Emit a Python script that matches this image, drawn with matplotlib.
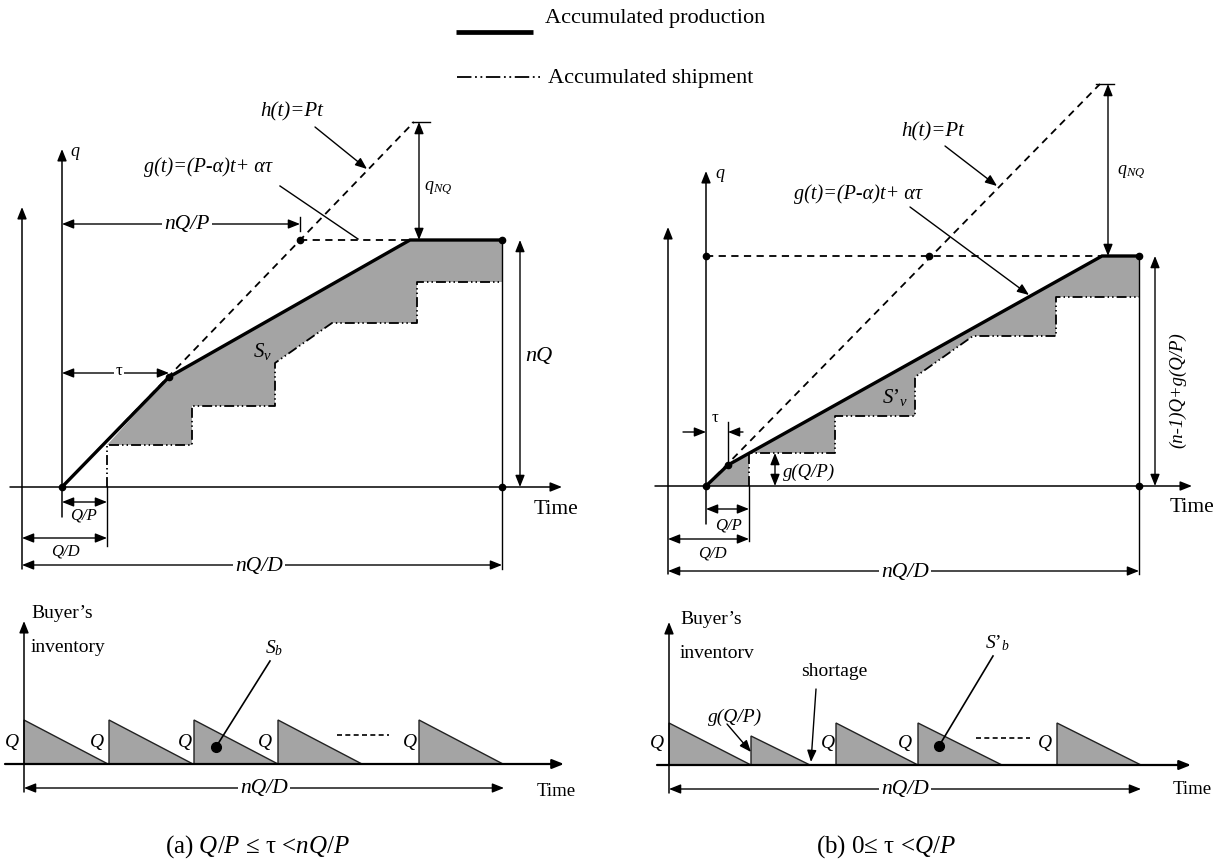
import numpy as np
import matplotlib.pyplot as plt
from matplotlib.patches import Polygon

plt.rcParams['font.family'] = ['Liberation Serif', 'DejaVu Serif']
plt.rcParams['mathtext.fontset'] = 'custom'
plt.rcParams['mathtext.rm'] = 'Liberation Serif'
plt.rcParams['mathtext.it'] = 'Liberation Serif:italic'

W, H = 1220, 862

# panel origins, image pixels (x from left, y from top)
origin_a = (62, 488)
origin_b = (706, 487)
origin_c = (24, 765)
origin_d = (669, 766)

# (a) vendor side, t to the right, q upwards (pixel units from the origin)
prod_a_t = [0, 107, 348, 440]
prod_a_q = [0, 110, 247, 247]
ship_a_t = [45, 45, 130, 130, 213, 213, 270, 355, 355, 440]
ship_a_q = [0, 42, 42, 81, 81, 124, 164, 164, 205, 205]
h_a_t = [0, 352]
h_a_q = [0, 365]
flat_a_t = [238, 348]

# (b) vendor side
prod_b_t = [0, 22, 396, 433]
prod_b_q = [0, 21, 230, 230]
ship_b_t = [43, 43, 129, 129, 209, 209, 267, 350, 350, 433]
ship_b_q = [0, 33, 33, 70, 70, 109, 150, 150, 189, 189]
h_b_t = [0, 394]
h_b_q = [0, 402]
flat_b_t = [0, 396]

# buyer's inventory saw-tooth
tri_a_start = [0, 85, 170, 254, 395]
tri_a_len = [84, 84, 84, 84, 84]
tri_a_height = [44, 44, 44, 44, 44]
tri_b_start = [0, 82, 167, 249, 388]
tri_b_len = [82, 59, 82, 84, 84]
tri_b_height = [42, 29, 42, 42, 42]

GRAY = '#a4a4a4'
SHIP = (0, (5.5, 1.7, 0.8, 1.7, 0.8, 1.7))
DASH = (0, (4, 3))

fig = plt.figure(figsize=(12.2, 8.62), dpi=100)


def panel(origin):
    ax = fig.add_axes([0, 0, 1, 1])
    ax.set_xlim(-origin[0], W - origin[0])
    ax.set_ylim(origin[1] - H, origin[1])
    ax.axis('off')
    return ax


def arrow(ax, a, b, both=False, lw=1.0):
    style = ('<|-|>' if both else '-|>') + ',head_length=0.5,head_width=0.2'
    ax.annotate('', xy=b, xytext=a,
                arrowprops=dict(arrowstyle=style, mutation_scale=14, lw=lw,
                                color='k', shrinkA=0, shrinkB=0))


def label(ax, x, y, s, size=14, style='italic', bg=False, **kw):
    kw.setdefault('ha', 'center')
    kw.setdefault('va', 'center')
    if bg:
        kw['bbox'] = dict(fc='white', ec='none', pad=1.5)
    ax.text(x, y, s, fontsize=size, style=style, zorder=6, **kw)


# ---------------- legend ----------------
lg = fig.add_axes([0, 0, 1, 1])
lg.set_xlim(0, W)
lg.set_ylim(H, 0)
lg.axis('off')
lg.plot([456, 533], [33, 33], color='k', lw=3.4, solid_capstyle='butt')
lg.plot([457, 540], [78, 78], color='k', lw=1.3, linestyle=(0, (8, 2, 1, 2, 1, 2)))
lg.text(545, 18, 'Accumulated production', fontsize=16, va='center')
lg.text(548, 78, 'Accumulated shipment', fontsize=16, va='center')

# ---------------- (a) top ----------------
ax = panel(origin_a)
poly_a = [(ship_a_t[1], ship_a_q[1])] + list(zip(prod_a_t[1:], prod_a_q[1:])) \
    + list(zip(ship_a_t[:1:-1], ship_a_q[:1:-1]))
ax.add_patch(Polygon(poly_a, closed=True, fc=GRAY, ec='none', zorder=1))
ax.plot(ship_a_t, ship_a_q, color='k', lw=1.3, linestyle=SHIP, zorder=2)
ax.plot(h_a_t, h_a_q, color='k', lw=1.3, linestyle=DASH, zorder=2)
ax.plot(flat_a_t, [prod_a_q[-1]] * 2, color='k', lw=1.3, linestyle=DASH, zorder=2)
ax.plot(prod_a_t, prod_a_q, color='k', lw=2.4, zorder=3, solid_joinstyle='miter')
ax.plot([0, 107, 440, 440, 238], [0, 110, 247, 0, 247], 'o', ms=4.5, color='k', zorder=4)

# axes
arrow(ax, (-40, -82), (-40, 280), lw=1.1)
arrow(ax, (0, -30), (0, 338), lw=1.1)
arrow(ax, (-52, 0), (500, 0), lw=1.1)
label(ax, 8, 336, 'q', size=13, ha='left')
label(ax, 494, -22, 'Time', size=15.5, style='normal')

# h(t), g(t) and their labels
ax.plot([350, 368], [h_a_q[1]] * 2, color='k', lw=1.0)
arrow(ax, (357, 365), (357, 247), both=True)
label(ax, 376, 300, r'$q_{NQ}$', size=13)
label(ax, 230, 376, 'h(t)=Pt', size=15)
arrow(ax, (253, 360), (305, 318))
label(ax, 146, 321, 'g(t)=(P-α)t+ ατ', size=14.5)
ax.plot([218, 296], [301, 248], color='k', lw=1.0)

# dimensions
arrow(ax, (0, 263), (238, 263), both=True)
ax.plot([238, 238], [256, 270], color='k', lw=1.0)
label(ax, 125, 263, 'nQ/P', size=15.5, bg=True)
arrow(ax, (0, 114), (107, 114), both=True)
label(ax, 57, 117, 'τ', size=12, style='normal', bg=True)
label(ax, 200, 136, r'$S_v$', size=15)
arrow(ax, (458, 247), (458, 0), both=True)
label(ax, 477, 131, 'nQ', size=16)
ax.plot([440, 440], [247, -82], color='k', lw=1.0)
ax.plot([45, 45], [0, -59], color='k', lw=1.0)
arrow(ax, (0, -15), (45, -15), both=True)
label(ax, 21, -28, 'Q/P', size=12)
arrow(ax, (-40, -51), (45, -51), both=True)
label(ax, 3, -64, 'Q/D', size=12)
arrow(ax, (-40, -78), (440, -78), both=True)
label(ax, 197, -78, 'nQ/D', size=15.5, bg=True)

# ---------------- (b) top ----------------
ax = panel(origin_b)
poly_b = list(zip(prod_b_t, prod_b_q)) + list(zip(ship_b_t[::-1], ship_b_q[::-1]))
ax.add_patch(Polygon(poly_b, closed=True, fc=GRAY, ec='none', zorder=1))
ax.plot(ship_b_t, ship_b_q, color='k', lw=1.3, linestyle=SHIP, zorder=2)
ax.plot(h_b_t, h_b_q, color='k', lw=1.3, linestyle=DASH, zorder=2)
ax.plot(flat_b_t, [prod_b_q[-1]] * 2, color='k', lw=1.3, linestyle=DASH, zorder=2)
ax.plot(prod_b_t, prod_b_q, color='k', lw=2.4, zorder=3, solid_joinstyle='miter')
ax.plot([0, 22, 433, 433, 0, 223], [0, 21, 230, 0, 230, 230], 'o', ms=4.5, color='k', zorder=4)

arrow(ax, (-38, -88), (-38, 259), lw=1.1)
arrow(ax, (0, -38), (0, 315), lw=1.1)
arrow(ax, (-51, 0), (486, 0), lw=1.1)
label(ax, 9, 314, 'q', size=13, ha='left')
label(ax, 486, -21, 'Time', size=15.5, style='normal')

ax.plot([390, 408], [h_b_q[1]] * 2, color='k', lw=1.0)
arrow(ax, (402, 402), (402, 230), both=True)
label(ax, 425, 315, r'$q_{NQ}$', size=13)
label(ax, 227, 355, 'h(t)=Pt', size=15)
arrow(ax, (239, 340), (291, 300))
label(ax, 152, 293, 'g(t)=(P-α)t+ ατ', size=14.5)
arrow(ax, (204, 279), (323, 191))
label(ax, 189, 89, r'$S\mathrm{’}_v$', size=15)

# tau, g(Q/P) and the other dimensions
arrow(ax, (-23, 54), (0, 54))
arrow(ax, (37, 54), (22, 54))
ax.plot([22, 22], [21, 64], color='k', lw=1.0)
label(ax, 9, 69, 'τ', size=12, style='normal')
arrow(ax, (69, 33), (69, 0), both=True)
label(ax, 77, 15, 'g(Q/P)', size=13.5, ha='left')
ax.plot([43, 43], [0, -55], color='k', lw=1.0)
arrow(ax, (0, -23), (43, -23), both=True)
label(ax, 22, -38, 'Q/P', size=12)
arrow(ax, (-38, -53), (43, -53), both=True)
label(ax, 6, -66, 'Q/D', size=12)
ax.plot([433, 433], [230, -88], color='k', lw=1.0)
arrow(ax, (-38, -85), (433, -85), both=True)
label(ax, 199, -85, 'nQ/D', size=15.5, bg=True)
arrow(ax, (449, 230), (449, 0), both=True)
label(ax, 472, 97, '(n-1)Q+g(Q/P)', size=13.5, rotation=90)


# ---------------- buyer's inventory ----------------
def buyer(origin, starts, lens, heights, t_end, t_axis, q_pos, dot, dot_lab, lab_text):
    ax = panel(origin)
    for s, w, h in zip(starts, lens, heights):
        ax.add_patch(Polygon([(s, 0), (s, h), (s + w, 0)], closed=True,
                             fc=GRAY, ec='#222222', lw=1.0, zorder=2))
    arrow(ax, (t_axis[0], 0), (t_axis[1], 0), lw=1.6)
    arrow(ax, (0, -28), (0, 143), lw=1.1)
    arrow(ax, (0, -24), (t_end, -24), both=True)
    label(ax, t_end / 2, -24, 'nQ/D', size=15.5, bg=True)
    for x in q_pos:
        label(ax, x, 22, 'Q', size=14)
    ax.plot(dot[0], dot[1], 'o', ms=7, color='k', zorder=5)
    ax.plot([dot_lab[0] - 4, dot[0]], [dot_lab[1] - 14, dot[1]], color='k', lw=1.2, zorder=5)
    label(ax, dot_lab[0], dot_lab[1], lab_text, size=14)
    return ax


ax = buyer(origin_c, tri_a_start, tri_a_len, tri_a_height, 480, (-19, 540),
           [-12, 73, 161, 241, 386], (192, 17), (250, 117), r'$S_b$')
label(ax, 7, 151, 'Buyer’s', size=14, style='normal', ha='left')
label(ax, 7, 118, 'inventory', size=14, style='normal', ha='left')
ax.plot([313, 365], [29, 29], color='k', lw=1.2, linestyle=(0, (3, 2)))
label(ax, 532, -27, 'Time', size=13.5, style='normal')
label(ax, 234, -82, '(a) $Q/P$ ≤ τ <$nQ/P$', size=18, style='normal')

ax = buyer(origin_d, tri_b_start, tri_b_len, tri_b_height, 472, (-12, 522),
           [-12, 159, 236, 376], (270, 19), (328, 123), r'$S\mathrm{’}_b$')
label(ax, 11, 146, 'Buyer’s', size=14, style='normal', ha='left')
label(ax, 11, 113, 'inventorv', size=14, style='normal', ha='left')
ax.plot([307, 361], [27, 27], color='k', lw=1.2, linestyle=(0, (3, 2)))
label(ax, 66, 49, 'g(Q/P)', size=14)
arrow(ax, (58, 41), (82, 13))
label(ax, 165, 94, 'shortage', size=14, style='normal')
arrow(ax, (147, 76), (142, 3))
label(ax, 523, -24, 'Time', size=13.5, style='normal')
label(ax, 217, -81, '(b) 0≤ τ <$Q/P$', size=18, style='normal')

fig.savefig('out.png', dpi=100)
